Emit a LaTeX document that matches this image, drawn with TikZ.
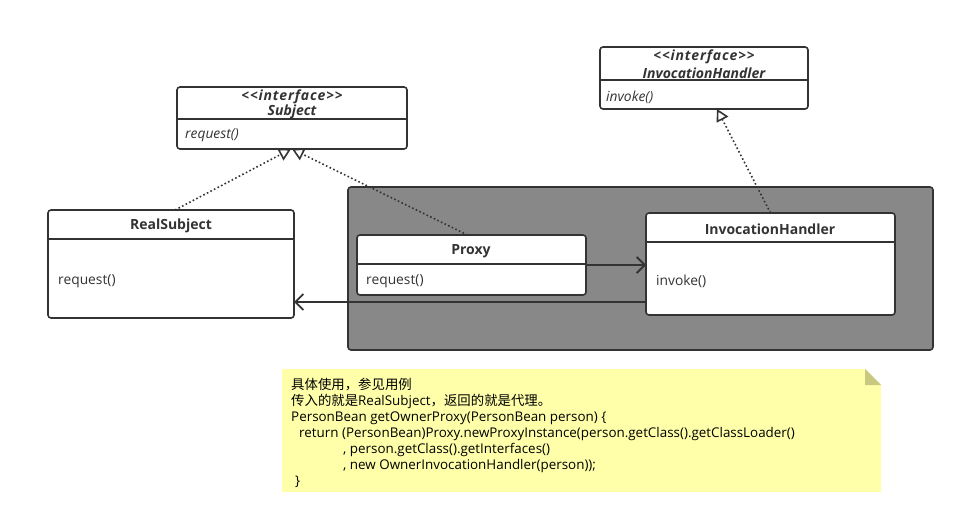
\documentclass[tikz,border=0pt]{standalone}
\usepackage{fontspec}
\setmainfont{Open Sans}
\newfontfamily\cjk{Noto Sans CJK SC}
\usetikzlibrary{arrows.meta}

\definecolor{ink}{HTML}{333333}
\definecolor{panelgray}{HTML}{888888}
\definecolor{notefill}{HTML}{FFFFAA}
\definecolor{notefold}{HTML}{C8C880}

\tikzset{
  classbox/.style={draw=ink, line width=1.6pt, fill=white, rounded corners=3pt,
    anchor=north west, outer sep=0pt, inner sep=0pt},
  divider/.style={draw=ink, line width=1.6pt},
  lbl/.style={text=ink, inner sep=0pt, font=\fontsize{13.8}{16}\selectfont},
  title/.style={lbl, font=\fontsize{14}{16}\selectfont\bfseries},
  ititle/.style={lbl, font=\fontsize{14}{16}\selectfont\bfseries\itshape},
  member/.style={lbl, anchor=west},
  imember/.style={lbl, anchor=west, font=\fontsize{13.8}{16}\selectfont\itshape},
  realize/.style={draw=ink, line width=1.6pt, dash pattern=on 1.6pt off 2.4pt,
    -{Triangle[open, length=12pt, width=13pt, line width=1.6pt]}},
  assoc/.style={draw=ink, line width=1.8pt,
    -{Straight Barb[length=8pt, width=16pt, line width=1.8pt]}},
}
\newcommand{\stereo}{{\addfontfeature{LetterSpace=6}<{}<interface>{}>}}

\begin{document}
\begin{tikzpicture}[x=1pt, y=-1pt]
\useasboundingbox (0,0) rectangle (965,524);

% grey panel that groups the proxy and its handler
\node[classbox, fill=panelgray, minimum width=585, minimum height=163] (panel) at (348,187) {};

% <<interface>> Subject
\node[classbox, minimum width=230, minimum height=62] (subj) at (177,87) {};
\draw[divider] ([yshift=-32pt]subj.north west) -- ([yshift=-32pt]subj.north east);
\node[ititle] (subjst) at (292,97) {\stereo};
\node[ititle] (subjnm) at (292,112) {Subject};
\node[imember] (subjop) at (185,135) {request()};

% <<interface>> InvocationHandler
\node[classbox, minimum width=208, minimum height=62] (ihi) at (600,47) {};
\draw[divider] ([yshift=-33pt]ihi.north west) -- ([yshift=-33pt]ihi.north east);
\node[ititle] (ihist) at (704,57) {\stereo};
\node[ititle] (ihinm) at (704,73) {InvocationHandler};
\node[imember] (ihiop) at (606,97) {invoke()};

% RealSubject
\node[classbox, minimum width=246, minimum height=108] (real) at (48,210) {};
\draw[divider] ([yshift=-29pt]real.north west) -- ([yshift=-29pt]real.north east);
\node[title] (realnm) at (171,226) {RealSubject};
\node[member] (realop) at (58,281) {request()};

% Proxy
\node[classbox, minimum width=229, minimum height=60] (proxy) at (357,235) {};
\draw[divider] ([yshift=-29pt]proxy.north west) -- ([yshift=-29pt]proxy.north east);
\node[title] (proxynm) at (471,251) {Proxy};
\node[member] (proxyop) at (366,281) {request()};

% InvocationHandler implementation
\node[classbox, minimum width=249, minimum height=102] (ihc) at (646,213) {};
\draw[divider] ([yshift=-29pt]ihc.north west) -- ([yshift=-29pt]ihc.north east);
\node[title] (ihcnm) at (770,229) {InvocationHandler};
\node[member] (ihcop) at (656,281) {invoke()};

% realizations
\draw[realize] ([xshift=4pt]real.north) -- ([xshift=-1pt]subj.south);
\draw[realize] ([xshift=-4pt]proxy.north) -- ([xshift=0pt]subj.south);
\draw[realize] (ihc.north) -- ([xshift=13pt]ihi.south);

% associations
\draw[assoc] (proxy.east) -- (proxy.east -| ihc.west);
\coordinate (back) at ([yshift=-38pt]ihc.west);
\draw[assoc] (back) -- (back -| real.east);

% note with folded corner
\fill[notefill] (282,369) -- (865,369) -- (881,385) -- (881,492) -- (282,492) -- cycle;
\fill[notefold] (865,369) -- (865,385) -- (881,385) -- cycle;
\node[anchor=north west, align=left, inner sep=0pt, text=black,
      font=\fontsize{13.4}{16}\selectfont] (note) at (291,378)
{{\cjk 具体使用，参见用例}\\
 {\cjk 传入的就是}RealSubject{\cjk ，返回的就是代理。}\\
 PersonBean getOwnerProxy(PersonBean person) \{\\
 \hspace*{8pt}return (PersonBean)Proxy.newProxyInstance(person.getClass().getClassLoader()\\
 \hspace*{52pt}, person.getClass().getInterfaces()\\
 \hspace*{52pt}, new OwnerInvocationHandler(person));\\
 \hspace*{4pt}\}};
\end{tikzpicture}
\end{document}
